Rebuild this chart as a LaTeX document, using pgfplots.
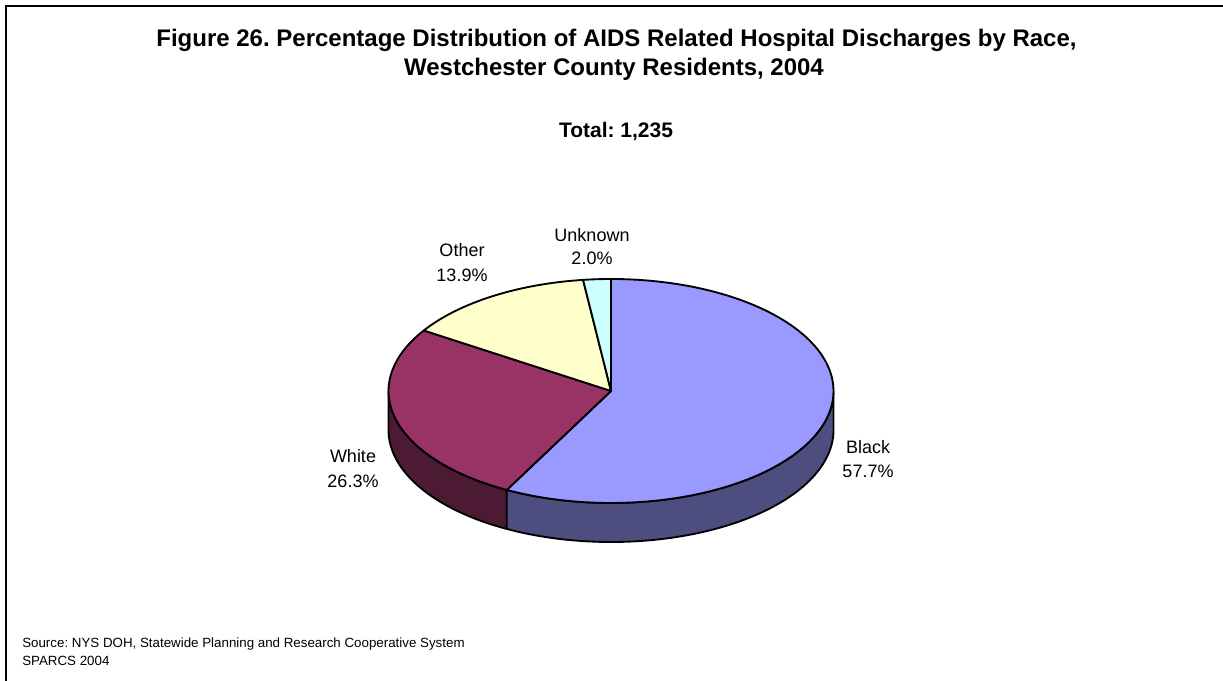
\documentclass[border=0pt]{standalone}
\usepackage{pgfplots}
\usepackage{pgfplotstable}
\pgfplotsset{compat=1.18}
\usepackage{fontspec}
\setmainfont{Liberation Sans}
\frenchspacing

\definecolor{cBlack}{HTML}{9999FF}
\definecolor{cBlackS}{HTML}{4D4D80}
\definecolor{cWhite}{HTML}{993366}
\definecolor{cWhiteS}{HTML}{4D1A33}
\definecolor{cOther}{HTML}{FFFFCC}
\definecolor{cUnknown}{HTML}{CCFFFF}

\pgfplotstableread{
race pct
Black 57.7
White 26.3
Other 13.9
Unknown 2.0
}\piedata

\begin{document}
\begin{tikzpicture}
\pgfplotstablegetelem{0}{pct}\of\piedata \pgfmathsetmacro\pA{\pgfplotsretval}
\pgfplotstablegetelem{1}{pct}\of\piedata \pgfmathsetmacro\pB{\pgfplotsretval}
\pgfplotstablegetelem{2}{pct}\of\piedata \pgfmathsetmacro\pC{\pgfplotsretval}
\pgfplotstablegetelem{3}{pct}\of\piedata \pgfmathsetmacro\pD{\pgfplotsretval}
\pgfmathsetmacro\tot{\pA+\pB+\pC+\pD}
\pgfmathsetmacro\aA{90-360*(\pA/\tot)}
\pgfmathsetmacro\aB{\aA-360*(\pB/\tot)}
\pgfmathsetmacro\aC{\aB-360*(\pC/\tot)}
\pgfmathsetmacro\aD{\aC-360*(\pD/\tot)}
\begin{axis}[name=ax, scale only axis, width=917.25pt, height=510.75pt,
  xmin=0, xmax=1223, ymin=0, ymax=681, axis lines=none, clip=false,
  declare function={
    sang(\t,\a,\b)=\a+(\b-\a)*min(\t,1)-(\b-\a)*max(\t-1.2,0);
    soff(\t)=-39+39*min(max((\t-1)/0.2,0),1);
  }]
% frame
\addplot[black, line width=1.1pt] coordinates {(6,-10) (6,675) (1240,675)};
% sides
\addplot[fill=cWhiteS, draw=black, line width=1.4pt, line join=round, domain=0:2.2, samples=221, variable=\t]
  ({611+222.5*cos(sang(\t,-180,\aA))}, {290+soff(\t)+112*sin(sang(\t,-180,\aA))}) -- cycle;
\addplot[fill=cBlackS, draw=black, line width=1.4pt, line join=round, domain=0:2.2, samples=221, variable=\t]
  ({611+222.5*cos(sang(\t,\aA,0))}, {290+soff(\t)+112*sin(sang(\t,\aA,0))}) -- cycle;
% top wedges
\addplot[fill=cBlack, draw=black, line width=1.4pt, line join=round, domain=\aA:90, samples=120, variable=\t]
  ({611+222.5*cos(\t)}, {290+112*sin(\t)}) -- (axis cs:611,290) -- cycle;
\addplot[fill=cWhite, draw=black, line width=1.4pt, line join=round, domain=\aB:\aA, samples=60, variable=\t]
  ({611+222.5*cos(\t)}, {290+112*sin(\t)}) -- (axis cs:611,290) -- cycle;
\addplot[fill=cOther, draw=black, line width=1.4pt, line join=round, domain=\aC:\aB, samples=40, variable=\t]
  ({611+222.5*cos(\t)}, {290+112*sin(\t)}) -- (axis cs:611,290) -- cycle;
\addplot[fill=cUnknown, draw=black, line width=1.4pt, line join=round, domain=\aD:\aC, samples=10, variable=\t]
  ({611+222.5*cos(\t)}, {290+112*sin(\t)}) -- (axis cs:611,290) -- cycle;
% titles
\node[anchor=base, font=\bfseries\fontsize{18}{21}\selectfont] at (axis cs:616.5,634) {Figure 26. Percentage Distribution of AIDS Related Hospital Discharges by Race,};
\node[anchor=base, font=\bfseries\fontsize{18}{21}\selectfont] at (axis cs:614,605) {Westchester County Residents, 2004};
\node[anchor=base, font=\bfseries\fontsize{15.75}{19}\selectfont] at (axis cs:616,543) {Total: 1,235};
% labels
\node[anchor=base, font=\fontsize{13.5}{16}\selectfont] at (axis cs:868,227) {Black};
\node[anchor=base, font=\fontsize{13.5}{16}\selectfont] at (axis cs:868,203) {57.7\%};
\node[anchor=base, font=\fontsize{13.5}{16}\selectfont] at (axis cs:353,218) {White};
\node[anchor=base, font=\fontsize{13.5}{16}\selectfont] at (axis cs:353,193) {26.3\%};
\node[anchor=base, font=\fontsize{13.5}{16}\selectfont] at (axis cs:462,424) {Other};
\node[anchor=base, font=\fontsize{13.5}{16}\selectfont] at (axis cs:462,399) {13.9\%};
\node[anchor=base, font=\fontsize{13.5}{16}\selectfont] at (axis cs:592,439) {Unknown};
\node[anchor=base, font=\fontsize{13.5}{16}\selectfont] at (axis cs:592,416) {2.0\%};
% source
\node[anchor=base west, inner sep=0pt, font=\fontsize{10}{12}\selectfont] at (axis cs:22,33) {Source: NYS DOH, Statewide Planning and Research Cooperative System};
\node[anchor=base west, inner sep=0pt, font=\fontsize{10}{12}\selectfont] at (axis cs:22,16) {SPARCS 2004};
\end{axis}
\pgfresetboundingbox
\useasboundingbox (ax.south west) rectangle (ax.north east);
\end{tikzpicture}
\end{document}
